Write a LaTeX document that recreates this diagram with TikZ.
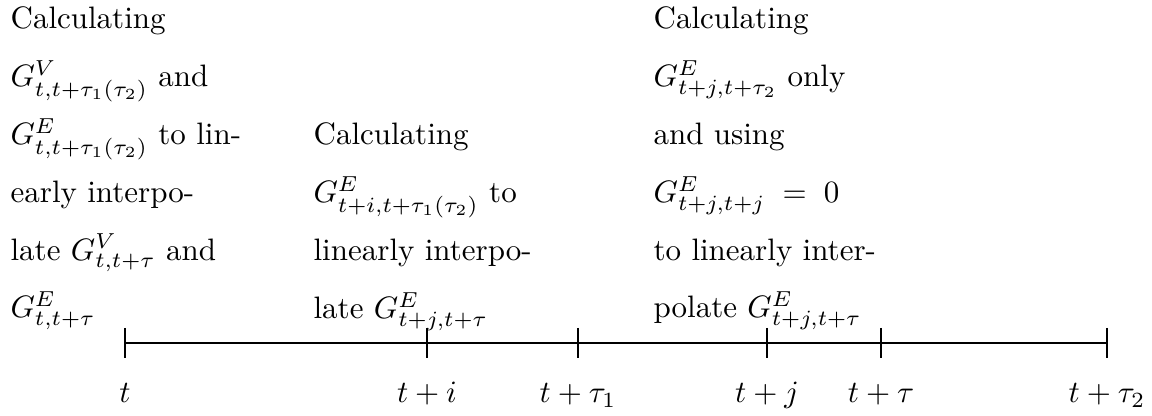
\documentclass[tikz,border=0pt]{standalone}
\begin{document}
\begin{tikzpicture}[x=0.32258pt, y=-0.32258pt,
  desc/.style={anchor=north west, inner sep=0pt, align=left, font=\fontsize{10}{18.64}\selectfont},
  lab/.style={anchor=base, inner sep=0pt},
  axisline/.style={line width=0.65pt}]
\useasboundingbox (0,0) rectangle (1152,416);
% description texts
\node[desc] (d1) at (10,6.5) {Calculating\\
$G^{V}_{t,t+\tau_1(\tau_2)}$ and\\
$G^{E}_{t,t+\tau_1(\tau_2)}$ to lin-\\
early interpo-\\
late $G^{V}_{t,t+\tau}$ and\\
$G^{E}_{t,t+\tau}$};
\node[desc] (d2) at (313,122.5) {Calculating\\
$G^{E}_{t+i,t+\tau_1(\tau_2)}$ to\\
linearly interpo-\\
late $G^{E}_{t+j,t+\tau}$};
\node[desc] (d3) at (653,6.5) {Calculating\\
$G^{E}_{t+j,t+\tau_2}$ only\\
and using\\
$G^{E}_{t+j,t+j}\mskip5mu=\mskip5mu0$\\
to linearly inter-\\
polate $G^{E}_{t+j,t+\tau}$};
% axis points
\coordinate (p0) at (125,343);
\coordinate (p1) at (427,343);
\coordinate (p2) at (578,343);
\coordinate (p3) at (767,343);
\coordinate (p4) at (881,343);
\coordinate (p5) at (1107,343);
\draw[axisline] (p0) -- (p5);
\foreach \p in {p0,p1,p2,p3,p4,p5}
  \draw[axisline] (\p) ++(0,-15) -- ++(0,30);
% labels
\node[lab] (l0) at (125,403) {$t$};
\node[lab] (l1) at (427,403) {$t+i$};
\node[lab] (l2) at (578,403) {$t+\tau_1$};
\node[lab] (l3) at (767,403) {$t+j$};
\node[lab] (l4) at (881,403) {$t+\tau$};
\node[lab] (l5) at (1107,403) {$t+\tau_2$};
\end{tikzpicture}
\end{document}
